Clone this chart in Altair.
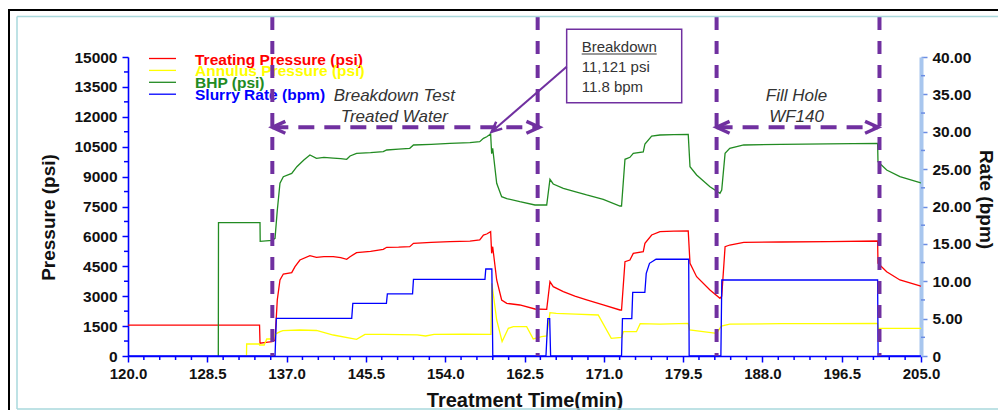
import altair as alt
import pandas as pd

# ---------------- data ----------------
tp_t = [120.0, 134.1, 134.15, 135.0, 135.45, 135.76, 136.0, 136.29, 136.65, 137.55, 137.9, 138.43, 139.5, 140.2,
        141.0, 142.0, 142.8, 143.44, 143.8, 144.5, 146.0, 147.36, 147.73, 149.0, 150.2, 150.6, 152.5, 154.5,
        156.65, 157.7, 158.1, 158.45, 158.87, 158.98, 159.09, 159.52, 160.05, 160.6, 162.0, 163.62, 164.88,
        165.23, 165.58, 166.66, 167.9, 169.16, 170.94, 172.73, 172.9, 173.27, 173.8, 174.16, 175.23, 175.41,
        176.13, 177.02, 178.5, 180.05, 180.24, 180.95, 182.38, 183.45, 183.64, 184.0, 184.5, 186.0, 190.0,
        195.0, 200.35, 200.39, 201.32, 202.74, 204.89, 205.0]
tp_v = [1550, 1550, 640, 700, 720, 803, 2810, 3813, 4114, 4180, 4480, 4816, 5032, 4950,
        4990, 4982, 4930, 4850, 4982, 5183, 5250, 5350, 5453, 5460, 5483, 5654, 5700, 5734,
        5760, 5820, 6070, 6120, 6236, 5152, 5483, 3813, 2810, 2643, 2559, 2358, 2343,
        3728, 3477, 3226, 3000, 2810, 2559, 2308, 2308, 4731, 4816, 5150, 5233, 5654,
        6070, 6236, 6260, 6271, 4650, 3980, 3311, 2894, 3000, 5483, 5568, 5700, 5720,
        5740, 5770, 4650, 4230, 3813, 3512, 3500]

bhp_t = [129.68, 129.7, 134.15, 134.17, 135.45, 135.76, 136.0, 136.29, 136.65, 137.55, 138.1, 138.85, 139.5,
         140.2, 141.0, 142.0, 142.8, 143.44, 143.8, 144.5, 146.0, 147.36, 147.73, 149.0, 150.2, 150.6, 152.5,
         154.5, 156.65, 157.7, 158.1, 158.45, 158.87, 158.98, 159.09, 159.52, 160.05, 160.6, 162.0, 163.62,
         164.88, 165.23, 165.58, 166.66, 167.9, 169.16, 170.94, 172.73, 172.9, 173.27, 173.8, 174.16, 175.23,
         175.41, 176.13, 177.02, 178.5, 180.05, 180.24, 180.95, 182.38, 183.45, 183.64, 184.0, 184.5, 186.0,
         190.0, 195.0, 200.35, 200.39, 201.32, 202.74, 204.89, 205.0]
bhp_v = [0, 6688, 6688, 5754, 5800, 5904, 7300, 8664, 8996, 9163, 9497, 9833, 10084,
         9918, 9960, 9930, 9900, 9867, 10034, 10168, 10200, 10250, 10335, 10380, 10420, 10586, 10620,
         10670, 10700, 10751, 10920, 11000, 11137, 10150, 10420, 8664, 7993, 7900, 7741, 7575,
         7575, 8865, 8630, 8413, 8250, 8077, 7860, 7525, 7525, 9868, 9968, 10168, 10235,
         10636, 11037, 11087, 11110, 11122, 9497, 9080, 8493, 8162, 8330, 10168, 10420, 10586,
         10620, 10640, 10670, 9748, 9331, 8996, 8695, 8690]

an_t = [132.7, 132.72, 134.07, 134.1, 134.6, 134.87, 135.5, 135.8, 136.3, 136.6, 138.4, 140.2, 142.0, 144.5,
        145.4, 147.4, 151.0, 151.9, 152.8, 156.0, 158.9, 159.0, 159.52, 160.1, 160.77, 161.3, 162.73, 163.44,
        164.34, 164.88, 165.23, 165.9, 168.0, 170.4, 171.8, 172.9, 173.1, 174.5, 174.9, 177.0, 180.05, 180.2,
        183.09, 183.6, 184.5, 190.0, 195.0, 200.35, 200.4, 205.0]
an_v = [0, 602, 602, 552, 552, 853, 853, 1100, 1220, 1270, 1304, 1280, 1053, 836,
        1087, 1087, 1060, 1003, 1080, 1100, 1087, 3647, 1806, 720, 1388, 1471, 1471, 853,
        970, 1003, 2174, 2140, 2100, 2057, 887, 937, 1220, 1220, 1620, 1600, 1640, 1304,
        1137, 1505, 1600, 1620, 1620, 1638, 1388, 1388]

sr_t = [120.0, 135.76, 135.9, 143.98, 144.1, 147.7, 147.8, 150.5, 150.6, 158.26, 158.35, 159.0, 159.1,
        164.8, 165.0, 165.2, 165.3, 172.9, 173.0, 174.0, 174.1, 175.4, 175.55, 175.9, 176.6, 180.1, 180.15,
        183.55, 183.65, 200.35, 200.4, 205.0]
sr_v = [0, 0, 5.04, 5.04, 7.05, 7.05, 8.3, 8.3, 10.26, 10.26, 11.64, 11.64, 0,
        0, 5.0, 5.0, 0, 0, 5.0, 5.0, 8.5, 8.5, 11.06, 12.4, 12.94, 12.94, 0,
        0, 10.17, 10.17, 0, 0]

series_names = ["Treating Pressure (psi)", "Annulus Pressure (psi)", "BHP (psi)", "Slurry Rate (bpm)"]
series_colors = ["#ff0000", "#ffff00", "#228b22", "#0000ff"]

# tick values
x_major = [round(120 + 8.5 * i, 1) for i in range(11)]
x_minor = [round(120 + 1.7 * i, 2) for i in range(51) if i % 5 != 0]
p_major = list(range(0, 15001, 1500))
p_minor = list(range(750, 15000, 1500))
r_major = [0, 5, 10, 15, 20, 25, 30, 35, 40]
r_minor = [2.5, 7.5, 12.5, 17.5, 22.5, 27.5, 32.5, 37.5]

# annotations (data units: minutes, psi)
marker_times = [135.47, 163.91, 183.09, 200.55]
span_starts = [135.47, 183.09]
span_ends = [164.1, 200.4]
span_level = 11474
span_centers = [148.55, 191.66]
span_line1 = ["Breakdown Test", "Fill Hole"]
span_line2 = ["Treated Water", "WF140"]
span_line1_level = 12800
span_line2_level = 11715
box_times = [167.02, 179.35]
box_levels = [12708, 16390]
box_lines = ["Breakdown", "11,121 psi", "11.8 bpm"]
box_text_time = 168.63
box_text_levels = [15267, 14263, 13260]
underline_times = [168.63, 176.67]
underline_level = 15150
leader_from = [167.02, 14514]
leader_to = [158.98, 11250]

# ---------------- chart ----------------
W, H = 793, 299
RP = 77  # right padding
PURPLE = "#7030a0"
FONT = "Liberation Sans, Arial, sans-serif"
TXT = "#111111"
AXBLUE = "#0000ff"

xs = alt.Scale(domain=[120, 205], nice=False, zero=False)
ys = alt.Scale(domain=[0, 15000], nice=False, zero=False)
rs = alt.Scale(domain=[0, 40], nice=False, zero=False)

rows = []
for name, ts, vs in [(series_names[0], tp_t, tp_v), (series_names[1], an_t, an_v), (series_names[2], bhp_t, bhp_v)]:
    for i, (t, v) in enumerate(zip(ts, vs)):
        rows.append({"t": t, "v": v, "s": name, "i": i})
press_df = pd.DataFrame(rows)
rate_df = pd.DataFrame({"t": sr_t, "v": sr_v, "i": list(range(len(sr_t)))})
one = pd.DataFrame({"k": [0]})

x_axis = alt.Axis(values=x_major, format=".1f", title="Treatment Time(min)", tickSize=6,
                  domainColor=AXBLUE, domainWidth=1.6, tickColor=AXBLUE, tickWidth=1.5,
                  labelPadding=4, labelFontSize=15, labelFontWeight="bold", labelColor=TXT, labelFont=FONT,
                  labelOverlap=False, labelFlush=False, grid=False,
                  titleFontSize=20, titleFontWeight="bold", titleColor=TXT, titleFont=FONT,
                  titleX=W / 2, titleY=50, titleAlign="center", titleBaseline="alphabetic")
y_axis = alt.Axis(values=p_major, format="d", title="Pressure (psi)", orient="left", tickSize=6,
                  domainColor=AXBLUE, domainWidth=1.6, tickColor=AXBLUE, tickWidth=1.5,
                  labelPadding=5, labelFontSize=15.5, labelFontWeight="bold", labelColor=TXT, labelFont=FONT,
                  labelOverlap=False, labelFlush=False, grid=False,
                  titleFontSize=19, titleFontWeight="bold", titleColor=TXT, titleFont=FONT,
                  titleAngle=270, titleX=-80, titleY=160, titleAlign="center", titleBaseline="middle")
r_axis = alt.Axis(values=r_major, title="Rate (bpm)", orient="right", tickSize=6,
                  labelExpr="datum.value === 0 ? '0' : format(datum.value, '.2f')",
                  domainColor="#a8c6ee", domainWidth=4, tickColor="#6b8de3", tickWidth=1.5,
                  labelPadding=5, labelFontSize=15.5, labelFontWeight="bold", labelColor=TXT, labelFont=FONT,
                  labelOverlap=False, labelFlush=False, grid=False,
                  titleFontSize=19, titleFontWeight="bold", titleColor=TXT, titleFont=FONT,
                  titleAngle=90, titleX=64, titleY=142, titleAlign="center", titleBaseline="middle")


def xq(f="t"):
    # same explicit axis in every layer so the shared x axis merges cleanly
    return alt.X(f + ":Q", scale=xs, axis=x_axis)


def yq(f="v"):
    return alt.Y(f + ":Q", scale=ys, axis=None)


press = alt.Chart(press_df).mark_line(strokeWidth=1.3).encode(
    x=xq(),
    y=alt.Y("v:Q", scale=ys, axis=y_axis),
    color=alt.Color("s:N", scale=alt.Scale(domain=series_names[:3], range=series_colors[:3]), legend=None),
    order=alt.Order("i:Q"),
)
rate = alt.Chart(rate_df).mark_line(strokeWidth=1.3, color=series_colors[3]).encode(
    x=xq(),
    y=alt.Y("v:Q", scale=rs, axis=r_axis),
    order=alt.Order("i:Q"),
)

# minor ticks
xminor = alt.Chart(pd.DataFrame({"t": x_minor})).mark_rule(color=AXBLUE, strokeWidth=1.5).encode(
    x=xq(), y=alt.value(H), y2=alt.value(H + 4))
pminor = alt.Chart(pd.DataFrame({"v": p_minor})).mark_rule(color=AXBLUE, strokeWidth=1.5).encode(
    y=yq(), x=alt.value(-4), x2=alt.value(1))
rminor = alt.Chart(pd.DataFrame({"v": r_minor})).mark_rule(color="#6b8de3", strokeWidth=1.5).encode(
    y=alt.Y("v:Q", scale=rs, axis=None), x=alt.value(W), x2=alt.value(W + 4))

# box with breakdown note
box = alt.Chart(pd.DataFrame({"t": [box_times[0]], "t2": [box_times[1]], "v": [box_levels[0]], "v2": [box_levels[1]]})).mark_rect(
    fill="white", stroke=PURPLE, strokeWidth=1.5).encode(x=xq(), x2="t2:Q", y=yq(), y2="v2:Q")
box_txt = alt.Chart(pd.DataFrame({"t": [box_text_time] * 3, "v": box_text_levels, "txt": box_lines})).mark_text(
    align="left", baseline="alphabetic", fontSize=15, font=FONT, color="#333333").encode(x=xq(), y=yq(), text="txt:N")
underline = alt.Chart(pd.DataFrame({"t": [underline_times[0]], "t2": [underline_times[1]], "v": [underline_level]})).mark_rule(
    color="#333333", strokeWidth=1).encode(x=xq(), x2="t2:Q", y=yq())
leader = alt.Chart(pd.DataFrame({"t": [leader_from[0]], "t2": [leader_to[0]], "v": [leader_from[1]], "v2": [leader_to[1]]})).mark_rule(
    color=PURPLE, strokeWidth=2).encode(x=xq(), x2="t2:Q", y=yq(), y2="v2:Q")
CHEV = "M 2 -0.92 L 0 0 L 2 0.92"
leader_head = alt.Chart(pd.DataFrame({"t": [leader_to[0]], "v": [leader_to[1]]})).mark_point(
    shape=CHEV, size=100, filled=False, strokeWidth=2.5, color=PURPLE, opacity=1, angle=319).encode(x=xq(), y=yq())

# span arrows
spans = alt.Chart(pd.DataFrame({"t": span_starts, "t2": span_ends, "v": [span_level] * 2})).mark_rule(
    color=PURPLE, strokeWidth=4, strokeDash=[16, 10]).encode(x=xq(), x2="t2:Q", y=yq())
heads = alt.Chart(pd.DataFrame({"t": span_starts + span_ends, "v": [span_level] * 4, "a": [0, 0, 180, 180]})).mark_point(
    shape=CHEV, size=169, filled=False, strokeWidth=3.5, color=PURPLE, opacity=1).encode(
    x=xq(), y=yq(), angle=alt.Angle("a:Q", scale=None))
span_txt = alt.Chart(pd.DataFrame({"t": span_centers * 2, "v": [span_line1_level] * 2 + [span_line2_level] * 2,
                                   "txt": span_line1 + span_line2})).mark_text(
    align="center", baseline="alphabetic", fontSize=17, fontStyle="italic", font=FONT, color="#333333").encode(
    x=xq(), y=yq(), text="txt:N")

# dashed markers
vlines = alt.Chart(pd.DataFrame({"t": marker_times})).mark_rule(
    color=PURPLE, strokeWidth=4, strokeDash=[13, 11]).encode(x=xq(), y=alt.value(-40), y2=alt.value(H))

# legend (drawn inside the plot, top-left)
legend_layers = []
for i, (name, col) in enumerate(zip(series_names, series_colors)):
    ly = 1.5 + 11.9 * i
    legend_layers.append(alt.Chart(one).mark_rule(color=col, strokeWidth=1.3).encode(
        x=alt.value(21), x2=alt.value(48), y=alt.value(ly)))
    legend_layers.append(alt.Chart(one).mark_text(text=name, color=col, align="left", baseline="alphabetic",
                                                  fontSize=15.5, fontWeight="bold", font=FONT).encode(
        x=alt.value(67), y=alt.value(ly + 6)))

# frame
frame = [
    alt.Chart(one).mark_rule(color="#000000", strokeWidth=2).encode(x=alt.value(-120), x2=alt.value(W + RP), y=alt.value(-47)),
    alt.Chart(one).mark_rule(color="#000000", strokeWidth=2).encode(x=alt.value(-119), y=alt.value(-48), y2=alt.value(H + 55)),
    alt.Chart(one).mark_rule(color="#a9d8dc", strokeWidth=1.5).encode(x=alt.value(-111), x2=alt.value(W + RP), y=alt.value(-40.5)),
    alt.Chart(one).mark_rule(color="#a9d8dc", strokeWidth=1.5).encode(x=alt.value(-111), y=alt.value(-40.5), y2=alt.value(H + 53)),
    alt.Chart(one).mark_rule(color="#a9d8dc", strokeWidth=1.5).encode(x=alt.value(-111), x2=alt.value(W + RP), y=alt.value(H + 53)),
]

chart = alt.layer(
    press, rate, xminor, pminor, rminor,
    *legend_layers,
    box, box_txt, underline, leader, leader_head,
    span_txt, vlines, spans, heads,
    *frame,
).resolve_scale(y="independent").properties(
    width=W, height=H,
    autosize=alt.AutoSizeParams(type="none"),
    padding={"left": 120, "top": 49, "right": RP, "bottom": 54},
    background="white",
).configure_view(stroke=None)

chart.save("out.html", embed_options={"renderer": "svg", "actions": False})
